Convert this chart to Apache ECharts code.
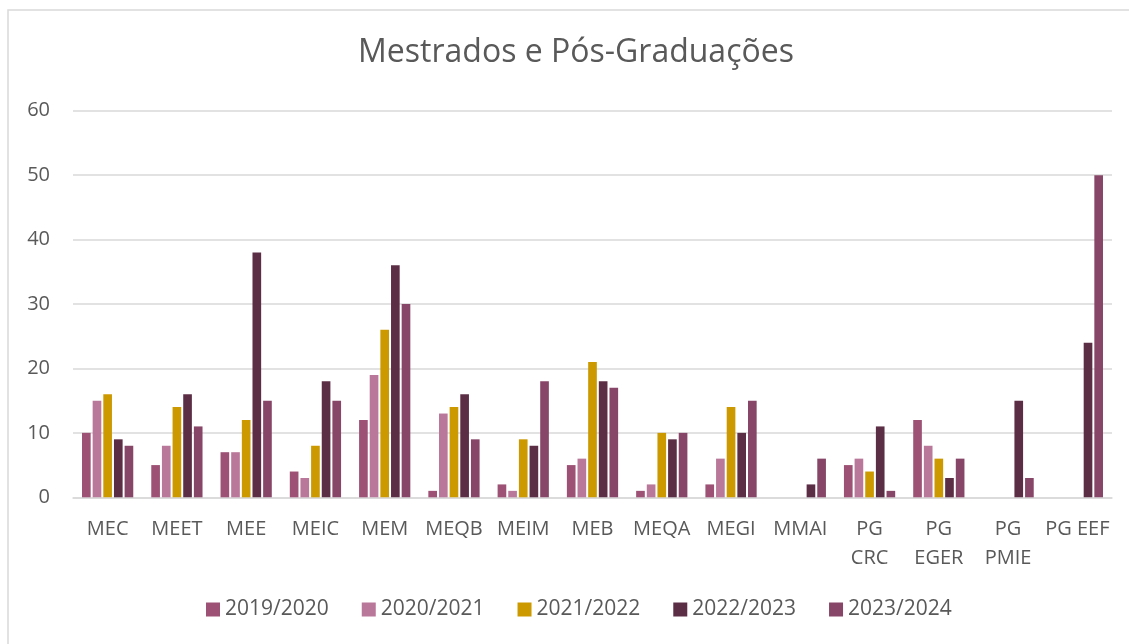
<!DOCTYPE html>
<html>
<head>
<meta charset="utf-8">
<script src="https://cdn.jsdelivr.net/npm/echarts@6/dist/echarts.min.js"></script>
<style>
html, body { margin: 0; padding: 0; background: #fff; }
#main { width: 1129px; height: 644px; }
</style>
</head>
<body>
<div id="main"></div>
<script>
// cursos (eixo x) e rótulos com quebra de linha como no original
const categories = ['MEC', 'MEET', 'MEE', 'MEIC', 'MEM', 'MEQB', 'MEIM', 'MEB', 'MEQA', 'MEGI', 'MMAI', 'PG CRC', 'PG EGER', 'PG PMIE', 'PG EEF']
const tickLabels = ['MEC', 'MEET', 'MEE', 'MEIC', 'MEM', 'MEQB', 'MEIM', 'MEB', 'MEQA', 'MEGI', 'MMAI', 'PG\nCRC', 'PG\nEGER', 'PG\nPMIE', 'PG EEF']
const yTicks = [0, 10, 20, 30, 40, 50, 60]

const years = ['2019/2020', '2020/2021', '2021/2022', '2022/2023', '2023/2024']
const colors = ['#9D5275', '#B97899', '#CC9900', '#5C2E46', '#874667']

const y2019 = [10, 5, 7, 4, 12, 1, 2, 5, 1, 2, null, 5, 12, null, null]
const y2020 = [15, 8, 7, 3, 19, 13, 1, 6, 2, 6, null, 6, 8, null, null]
const y2021 = [16, 14, 12, 8, 26, 14, 9, 21, 10, 14, null, 4, 6, null, null]
const y2022 = [9, 16, 38, 18, 36, 16, 8, 18, 9, 10, 2, 11, 3, 15, 24]
const y2023 = [8, 11, 15, 15, 30, 9, 18, 17, 10, 15, 6, 1, 6, 3, 50]
const seriesData = [y2019, y2020, y2021, y2022, y2023]

const textColor = '#595959'
const font = '"Open Sans", sans-serif'

let myChart = echarts.init(document.getElementById('main'))
let option = {
    animation: false,
    backgroundColor: '#fff',
    color: colors,
    graphic: [{
        type: 'rect',
        shape: { x: 8, y: 10, width: 1200, height: 700 },
        style: { fill: 'none', stroke: '#d9d9d9', lineWidth: 1.5 },
        silent: true
    }],
    title: {
        text: 'Mestrados e Pós-Graduações',
        left: 576,
        textAlign: 'center',
        top: 37,
        padding: 0,
        textStyle: {
            color: textColor,
            fontFamily: font,
            fontSize: 32,
            fontWeight: 'normal'
        }
    },
    legend: {
        data: years,
        left: 206,
        top: 599,
        padding: 0,
        itemWidth: 14,
        itemHeight: 14,
        itemGap: 33,
        icon: 'rect',
        textStyle: {
            color: textColor,
            fontFamily: font,
            fontSize: 21
        }
    },
    grid: {
        left: 73,
        right: 17,
        top: 110.7,
        bottom: 146.7,
        containLabel: false
    },
    xAxis: {
        type: 'category',
        data: categories,
        axisTick: { show: false },
        axisLine: {
            show: true,
            lineStyle: { color: '#d9d9d9', width: 1.5 }
        },
        axisLabel: {
            color: textColor,
            fontFamily: font,
            fontSize: 20,
            lineHeight: 29,
            margin: 17,
            interval: 0,
            formatter: (value, idx) => tickLabels[idx]
        }
    },
    yAxis: {
        type: 'value',
        min: yTicks[0],
        max: yTicks[yTicks.length - 1],
        interval: 10,
        axisLine: { show: false },
        axisTick: { show: false },
        axisLabel: {
            color: textColor,
            fontFamily: font,
            fontSize: 20,
            margin: 23
        },
        splitLine: {
            lineStyle: { color: '#d9d9d9', width: 1.5 }
        }
    },
    series: years.map((name, i) => ({
        name: name,
        type: 'bar',
        data: seriesData[i],
        barGap: '23%',
        barCategoryGap: '26%',
        itemStyle: {
            color: colors[i]
        }
    }))
}
myChart.setOption(option)
</script>
</body>
</html>
